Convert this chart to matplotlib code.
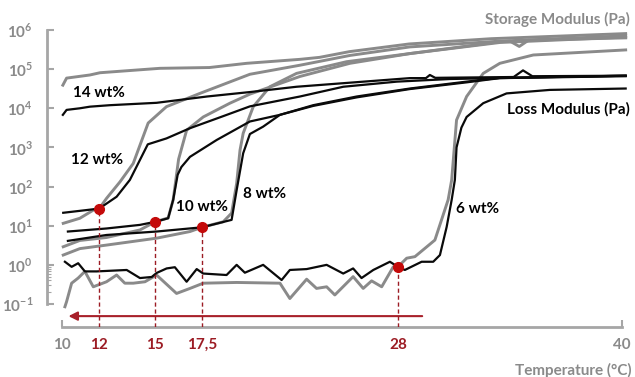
import matplotlib
matplotlib.use("Agg")
import matplotlib.pyplot as plt
from matplotlib.ticker import FixedLocator, NullFormatter

plt.rcParams['font.family'] = ['Lato', 'DejaVu Sans']
plt.rcParams['font.weight'] = 'bold'
plt.rcParams['mathtext.fontset'] = 'custom'
plt.rcParams['mathtext.rm'] = 'Lato:bold'
plt.rcParams['mathtext.bf'] = 'Lato:bold'

GRAY = '#8a8a8a'
AXGRAY = '#a6a6a6'
DARKRED = '#9c1c24'

# --- data: temperature (°C) and modulus (Pa) ---
t14_gp = [10.05, 10.25, 11.5, 12.04, 15.25, 17.9, 19.9, 22.75, 23.8, 25.4, 28.6, 33.0, 40.2]
g14_gp = [3.9e4, 5.9e4, 7.1e4, 8.1e4, 1.05e5, 1.1e5, 1.41e5, 1.78e5, 2.0e5, 2.8e5, 4.4e5, 6.0e5, 8.1e5]
t14_gpp = [10.05, 10.25, 10.96, 11.5, 12.57, 15.07, 17.77, 20.07, 22.57, 28.64, 29.5, 29.71, 30.0, 34.2, 34.7, 35.2, 40.2]
g14_gpp = [6.8e3, 9.1e3, 1.0e4, 1.1e4, 1.2e4, 1.38e4, 2.0e4, 2.6e4, 3.55e4, 5.9e4, 5.9e4, 7.1e4, 6.0e4, 6.3e4, 9.3e4, 6.6e4, 6.8e4]

t12_gp = [10.07, 10.96, 11.68, 12.0, 12.39, 13.11, 13.82, 14.62, 15.6, 17.39, 20.07, 22.75, 25.43, 28.64, 33.46, 40.2]
g12_gp = [11.5, 15.5, 25, 27.5, 50, 132, 390, 4200, 1.1e4, 2.4e4, 7.4e4, 1.26e5, 2.24e5, 3.7e5, 5.2e5, 7.1e5]
t12_gpp = [10.07, 11.68, 12.0, 12.93, 13.64, 14.18, 14.6, 15.6, 16.86, 18.64, 20.07, 22.75, 25.07, 27.95, 30.8, 40.2]
g12_gpp = [21.4, 26.3, 27.5, 55, 148, 480, 1200, 1700, 3100, 6300, 1.12e4, 2.0e4, 3.55e4, 4.8e4, 5.6e4, 6.8e4]

t10_gp = [10.07, 10.96, 12.39, 14.18, 15.0, 15.69, 15.96, 16.25, 16.68, 17.57, 19.0, 20.07, 22.75, 25.43, 28.64, 33.46, 40.2]
g10_gp = [2.9, 4.2, 5.0, 7.8, 12.6, 15.8, 46, 500, 2750, 6000, 1.35e4, 2.3e4, 6.5e4, 1.41e5, 2.5e5, 4.8e5, 6.6e5]
t10_gpp = [10.32, 12.39, 14.18, 15.0, 15.69, 15.96, 16.2, 16.4, 16.86, 18.29, 20.07, 21.68, 23.46, 25.79, 28.64, 31.68, 33.46, 40.2]
g10_gpp = [7.1, 8.5, 10.5, 12.6, 15.5, 46, 200, 316, 575, 1550, 4600, 6800, 1.2e4, 2.0e4, 3.2e4, 4.8e4, 6.0e4, 6.8e4]

t8_gp = [10.07, 10.96, 12.39, 15.07, 16.86, 17.5, 18.64, 19.09, 19.36, 19.54, 19.71, 20.25, 21.14, 22.57, 25.25, 28.64, 33.46, 34.0, 34.5, 35.0, 40.2]
g8_gp = [1.78, 2.6, 3.2, 4.8, 7.1, 9.1, 12.6, 21, 120, 850, 2300, 1.1e4, 3.55e4, 7.8e4, 1.55e5, 2.5e5, 5.0e5, 5.2e5, 3.8e5, 5.5e5, 6.3e5]
t8_gpp = [10.32, 12.39, 15.07, 17.5, 19.09, 19.36, 19.71, 20.07, 20.78, 21.68, 23.46, 25.79, 28.64, 31.68, 33.46, 40.2]
g8_gpp = [4.1, 5.8, 7.1, 9.1, 14.1, 81, 710, 2200, 3400, 6800, 1.15e4, 1.9e4, 3.1e4, 4.6e4, 5.9e4, 6.6e4]

t6_gp = [10.16, 10.25, 10.52, 10.87, 11.23, 11.68, 12.39, 12.93, 13.37, 13.82, 14.45, 15.07, 16.14, 16.86, 17.57,
         19.36, 21.68, 22.21, 23.11, 23.64, 24.18, 24.62, 25.6, 26.14, 26.59, 27.13, 27.75, 28.0, 28.47, 28.91,
         29.98, 30.69, 30.88, 31.14, 31.68, 32.57, 33.46, 35.25, 40.2]
g6_gp = [0.085, 0.115, 0.34, 0.46, 0.68, 0.275, 0.37, 0.55, 0.34, 0.34, 0.37, 0.55, 0.186, 0.25, 0.34,
         0.355, 0.34, 0.138, 0.43, 0.25, 0.275, 0.17, 0.5, 0.25, 0.39, 0.275, 0.89, 0.89, 1.48, 1.62,
         4.3, 46, 148, 5000, 2.0e4, 7.8e4, 1.41e5, 2.3e5, 3.1e5]
t6_gpp = [10.16, 10.52, 10.87, 11.23, 11.86, 13.47, 14.18, 14.81, 15.07, 15.61, 16.05, 16.68, 17.22, 17.57, 18.82,
          19.36, 19.8, 20.78, 21.77, 22.21, 23.11, 24.18, 25.07, 25.6, 26.05, 26.68, 27.57, 28.0, 28.37, 29.27,
          29.89, 30.25, 30.61, 30.88, 31.05, 31.14, 31.4, 31.68, 32.57, 33.82, 36.14, 40.2]
g6_gpp = [1.2, 0.89, 1.1, 0.68, 0.68, 0.74, 0.46, 0.49, 0.62, 0.81, 0.87, 0.37, 0.78, 0.6, 0.55,
          1.0, 0.63, 1.0, 0.41, 0.74, 0.78, 1.0, 0.6, 0.81, 0.46, 0.74, 1.2, 0.89, 0.74, 1.2,
          1.2, 1.78, 9.3, 46, 148, 1000, 3200, 6000, 1.35e4, 2.4e4, 2.95e4, 3.2e4]

# gel points (G' = G'')
gel_t = [12, 15, 17.5, 28]
gel_g = [27.5, 12.6, 9.1, 0.89]
gel_labels = ['12', '15', '17,5', '28']

storage = [(t14_gp, g14_gp), (t12_gp, g12_gp), (t10_gp, g10_gp), (t8_gp, g8_gp), (t6_gp, g6_gp)]
loss = [(t14_gpp, g14_gpp), (t12_gpp, g12_gpp), (t10_gpp, g10_gpp), (t8_gpp, g8_gpp), (t6_gpp, g6_gpp)]

fig = plt.figure(figsize=(6.35, 3.77), dpi=100)
ax = fig.add_axes([0.074, 0.1326, 0.926, 0.7878])
ymin = 10 ** -1.588
ax.set_yscale('log')
ax.set_xlim(9.2, 40.7)
ax.set_ylim(ymin, 1e6)

for t, g in storage:
    ax.plot(t, g, color=GRAY, lw=2.1, solid_joinstyle='round', zorder=2)
for t, g in loss:
    ax.plot(t, g, color='#0a0a0a', lw=1.6, solid_joinstyle='round', zorder=3)

# dashed drop lines and red gel points
ax.vlines(gel_t, ymin, gel_g, colors=DARKRED, linestyles=(0, (3, 2)), lw=1, zorder=4)
ax.plot(gel_t, gel_g, 'o', color='#c40a0a', ms=7, zorder=5)

# arrow (cooling direction)
ax.annotate('', xy=(10.35, 0.049), xytext=(29.3, 0.049),
            arrowprops=dict(arrowstyle='-|>', color='#a8202a', lw=1.5, mutation_scale=13, shrinkA=0, shrinkB=0))

# labels on the curves
fs = 11
ax.text(11.98, 2.5e4, '14 wt%', ha='center', va='center', fontsize=fs)
ax.text(11.87, 480, '12 wt%', ha='center', va='center', fontsize=fs)
ax.text(17.5, 30, '10 wt%', ha='center', va='center', fontsize=fs)
ax.text(20.87, 65, '8 wt%', ha='center', va='center', fontsize=fs)
ax.text(32.29, 27, '6 wt%', ha='center', va='center', fontsize=fs)
ax.text(40.43, 9.5e3, 'Loss Modulus (Pa)', ha='right', va='center', fontsize=fs)
ax.text(40.43, 1.9e6, 'Storage Modulus (Pa)', ha='right', va='center', fontsize=fs,
        color=GRAY, clip_on=False)
fig.text(0.995, 0.0186, 'Temperature (°C)', ha='right', va='center', fontsize=fs, color=GRAY)

# spines
for s in ['top', 'right']:
    ax.spines[s].set_visible(False)
for s in ['left', 'bottom']:
    ax.spines[s].set_color(AXGRAY)
    ax.spines[s].set_linewidth(2)
ax.spines['left'].set_bounds(0.1, 1e6)
ax.spines['bottom'].set_bounds(10, 40)

# y ticks
ax.yaxis.set_major_locator(FixedLocator([0.1, 1, 10, 100, 1e3, 1e4, 1e5, 1e6]))
ax.set_yticklabels(['$10^{-1}$', '$10^{0}$', '$10^{1}$', '$10^{2}$', '$10^{3}$', '$10^{4}$', '$10^{5}$', '$10^{6}$'])
ax.yaxis.set_minor_locator(FixedLocator([0.2, 0.3, 0.4, 0.5, 0.6, 0.7, 0.8, 0.9]))
ax.yaxis.set_minor_formatter(NullFormatter())
ax.tick_params(axis='y', which='major', direction='in', length=5, width=1.5, color=AXGRAY,
               labelcolor=GRAY, labelsize=fs, pad=10)
ax.tick_params(axis='y', which='minor', direction='in', length=3, width=0.8, color=AXGRAY)

# x ticks: ends in gray, gel temperatures in red
ax.set_xticks([10, 40])
ax.set_xticklabels(['10', '40'])
ax.set_xticks(gel_t, minor=True)
ax.set_xticklabels(gel_labels, minor=True)
ax.tick_params(axis='x', which='major', direction='in', length=5, width=1.5, color=AXGRAY,
               labelcolor=GRAY, labelsize=fs, pad=8)
ax.tick_params(axis='x', which='minor', length=0, labelcolor=DARKRED, labelsize=fs, pad=8)

fig.savefig('out.png', dpi=100)
